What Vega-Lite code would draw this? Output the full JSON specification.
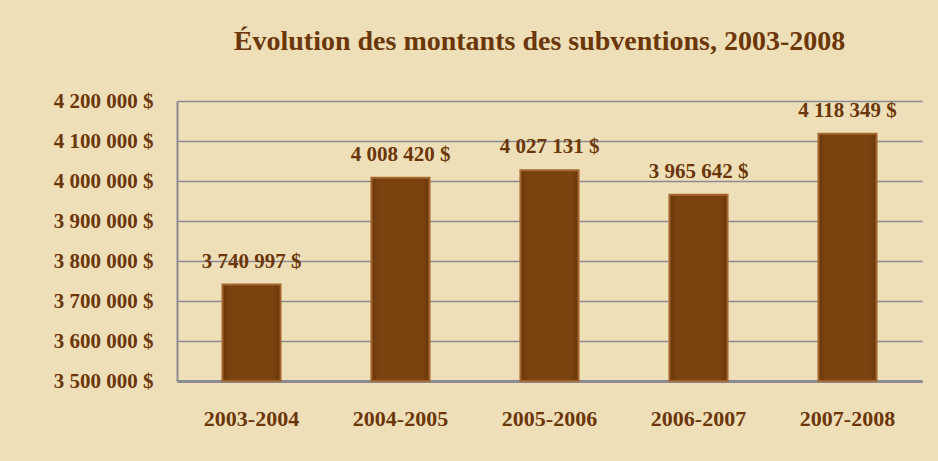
{
  "$schema": "https://vega.github.io/schema/vega-lite/v6.json",
  "autosize": {"type": "none"},
  "width": 745,
  "height": 280,
  "padding": {"left": 177, "top": 101, "right": 16, "bottom": 80},
  "background": "#efdfb9",
  "title": {
    "text": "Évolution des montants des subventions, 2003-2008",
    "font": "Liberation Serif",
    "fontSize": 28,
    "fontWeight": "bold",
    "color": "#6b3608",
    "anchor": "middle",
    "offset": 34,
    "dx": -10
  },
  "config": {
    "locale": {"number": {"decimal": ",", "thousands": " ", "grouping": [3], "currency": ["", " $"]}},
    "view": {"stroke": null},
    "axis": {
      "labelFont": "Liberation Serif",
      "labelFontWeight": "bold",
      "labelFontSize": 21,
      "labelColor": "#6b3608",
      "title": null
    }
  },
  "data": {
    "values": [
      {"periode": "2003-2004", "montant": 3740997},
      {"periode": "2004-2005", "montant": 4008420},
      {"periode": "2005-2006", "montant": 4027131},
      {"periode": "2006-2007", "montant": 3965642},
      {"periode": "2007-2008", "montant": 4118349}
    ]
  },
  "encoding": {
    "x": {
      "field": "periode",
      "type": "nominal",
      "sort": null,
      "scale": {"paddingInner": 0.61, "paddingOuter": 0.305},
      "axis": {
        "labelAngle": 0,
        "labelFontSize": 22,
        "labelPadding": 27,
        "ticks": false,
        "domain": true,
        "domainColor": "#8a8a92",
        "domainWidth": 3,
        "grid": false
      }
    },
    "y": {
      "field": "montant",
      "type": "quantitative",
      "scale": {"domain": [3500000, 4200000], "nice": false, "zero": false},
      "axis": {
        "values": [3500000, 3600000, 3700000, 3800000, 3900000, 4000000, 4100000, 4200000],
        "format": "$,d",
        "labelPadding": 24,
        "ticks": false,
        "domain": true,
        "domainColor": "#8a8a92",
        "domainWidth": 2,
        "grid": true,
        "gridColor": "#8a8a94",
        "gridWidth": 1.5,
        "gridOpacity": 1
      }
    }
  },
  "layer": [
    {
      "mark": {
        "type": "bar",
        "stroke": "#a4672e",
        "strokeWidth": 2,
        "color": {
          "gradient": "linear",
          "x1": 0, "y1": 0, "x2": 1, "y2": 0,
          "stops": [
            {"offset": 0, "color": "#6a360a"},
            {"offset": 0.12, "color": "#7a420f"},
            {"offset": 0.88, "color": "#7a420f"},
            {"offset": 1, "color": "#6a360a"}
          ]
        }
      },
      "encoding": {"y2": {"datum": 3500000}}
    },
    {
      "mark": {
        "type": "text",
        "baseline": "bottom",
        "dy": -13,
        "font": "Liberation Serif",
        "fontWeight": "bold",
        "fontSize": 21,
        "color": "#6b3608"
      },
      "encoding": {
        "text": {"field": "montant", "type": "quantitative", "format": "$,d"}
      }
    }
  ]
}
